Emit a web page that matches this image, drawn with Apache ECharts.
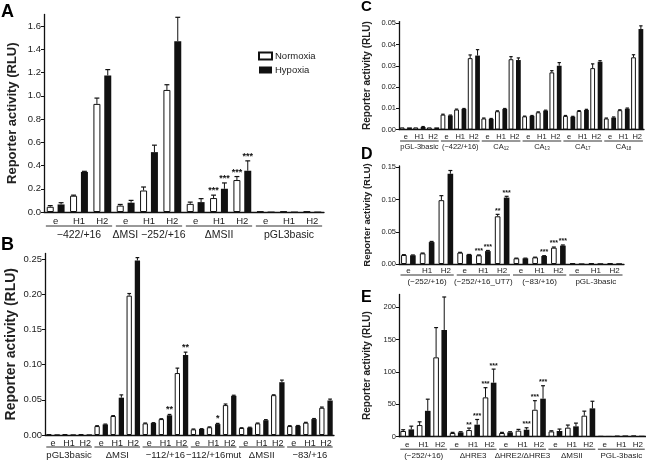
<!DOCTYPE html>
<html><head><meta charset="utf-8">
<script src="https://cdn.jsdelivr.net/npm/echarts@6/dist/echarts.min.js"></script>
<style>html,body{margin:0;padding:0;background:#fff}#c{width:646px;height:461px}</style>
</head><body><div id="c"></div>
<script>
const conds = ['e', 'H1', 'H2'];

// ---- Panel A ----
const groupsA = ['\u2212422/+16', '\u0394MSI \u2212252/+16', '\u0394MSII', 'pGL3basic'];
const ticksA = [0, 0.2, 0.4, 0.6, 0.8, 1.0, 1.2, 1.4, 1.6];
const normA = [0.045, 0.14, 0.93, 0.055, 0.185, 1.05, 0.07, 0.12, 0.275, 0.004, 0.004, 0.004];
const normErrA = [0.01, 0.005, 0.05, 0.01, 0.03, 0.045, 0.015, 0.025, 0.03, 0, 0, 0];
const hypA = [0.065, 0.345, 1.175, 0.08, 0.515, 1.47, 0.085, 0.2, 0.355, 0.004, 0.004, 0.004];
const hypErrA = [0.015, 0.005, 0.05, 0.02, 0.06, 0.205, 0.03, 0.05, 0.085, 0, 0, 0];
const starsNA = ['', '', '', '', '', '', '', '***', '***', '', '', ''];
const starsHA = ['', '', '', '', '', '', '', '***', '***', '', '', ''];

// ---- Panel B ----
const groupsB = ['pGL3basic', '\u0394MSI', '\u2212112/+16', '\u2212112/+16mut', '\u0394MSII', '\u221283/+16'];
const ticksB = [0, 0.05, 0.10, 0.15, 0.20, 0.25];
const normB = [0.001, 0.001, 0.001, 0.0127, 0.027, 0.198, 0.0165, 0.0226, 0.088, 0.008, 0.011, 0.0425, 0.01, 0.0165, 0.0566, 0.0127, 0.0175, 0.0387];
const normErrB = [0, 0, 0, 0.0005, 0.0005, 0.003, 0.0005, 0.0005, 0.007, 0.0005, 0.0005, 0.0015, 0.0003, 0.0005, 0.0005, 0.0005, 0.0005, 0.001];
const hypB = [0.001, 0.001, 0.001, 0.015, 0.053, 0.248, 0.017, 0.028, 0.1137, 0.0085, 0.0155, 0.0557, 0.0105, 0.021, 0.075, 0.013, 0.0226, 0.049];
const hypErrB = [0, 0, 0, 0.0005, 0.004, 0.004, 0.0005, 0.0012, 0.004, 0.0005, 0.001, 0.0008, 0.0005, 0.0008, 0.003, 0.0005, 0.0008, 0.002];
const starsNB = ['', '', '', '', '', '', '', '', '', '', '', '', '', '', '', '', '', ''];
const starsHB = ['', '', '', '', '', '', '', '**', '**', '', '*', '', '', '', '', '', '', ''];

// ---- Panel C ----
const groupsC = ['pGL-3basic', '(\u2212422/+16)', 'CA{s|12}', 'CA{s|13}', 'CA{s|17}', 'CA{s|18}'];
const ticksC = [0, 0.01, 0.02, 0.03, 0.04, 0.05];
const normC = [0.001, 0.001, 0.001, 0.007, 0.0094, 0.0336, 0.0052, 0.0086, 0.0331, 0.0062, 0.0081, 0.0269, 0.0064, 0.0087, 0.0289, 0.0052, 0.0091, 0.034];
const normErrC = [0, 0, 0, 0.0002, 0.0002, 0.0015, 0.0002, 0.0002, 0.0012, 0.0001, 0.0002, 0.0008, 0.0002, 0.0002, 0.002, 0.0002, 0.0002, 0.0012];
const hypC = [0.001, 0.0012, 0.001, 0.0066, 0.0097, 0.0348, 0.005, 0.0097, 0.0327, 0.0064, 0.0089, 0.030, 0.006, 0.0092, 0.0319, 0.0056, 0.0098, 0.0473];
const hypErrC = [0, 0.0002, 0, 0.0002, 0.0002, 0.0028, 0.0002, 0.0002, 0.001, 0.0002, 0.0002, 0.0015, 0.0002, 0.0003, 0.0005, 0.0003, 0.0003, 0.0015];
const starsNC = normC.map(() => '');
const starsHC = hypC.map(() => '');

// ---- Panel D ----
const groupsD = ['(\u2212252/+16)', '(\u2212252/+16_UT7)', '(\u221283/+16)', 'pGL-3basic'];
const ticksD = [0, 0.05, 0.10, 0.15];
const normD = [0.014, 0.0165, 0.099, 0.0176, 0.0135, 0.074, 0.0088, 0.0103, 0.0253, 0.001, 0.001, 0.001];
const normErrD = [0.0005, 0.0005, 0.007, 0.0005, 0.0005, 0.003, 0.0003, 0.0003, 0.001, 0, 0, 0];
const hypD = [0.0135, 0.034, 0.14, 0.0145, 0.02, 0.103, 0.0088, 0.0124, 0.0285, 0.001, 0.0012, 0.0012];
const hypErrD = [0.0005, 0.001, 0.005, 0.0003, 0.001, 0.002, 0.0003, 0.0005, 0.001, 0, 0, 0];
const starsND = ['', '', '', '', '***', '**', '', '', '***', '', '', ''];
const starsHD = ['', '', '', '', '***', '***', '', '***', '***', '', '', ''];

// ---- Panel E ----
const groupsE = ['(\u2212252/+16)', '\u0394HRE3', '\u0394HRE2/\u0394HRE3', '\u0394MSII', 'PGL-3basic'];
const ticksE = [0, 50, 100, 150, 200];
const normE = [8.8, 18, 122.7, 5.7, 10.3, 60.8, 5.7, 9.3, 41.7, 8.2, 14, 32.5, 1, 1.5, 2];
const normErrE = [2, 5, 46, 1, 3, 15, 1, 2, 14, 1, 4, 7, 0, 0, 0];
const hypE = [11.3, 40, 165, 6.7, 18.6, 83.5, 6.7, 10.8, 58.8, 8.8, 16, 43.8, 1.2, 2, 1.5];
const hypErrE = [5, 18, 51, 1, 8, 21, 1, 3, 20, 3, 5, 11, 0, 0, 0];
const starsNE = ['', '', '', '', '**', '***', '', '', '***', '', '', '', '', '', ''];
const starsHE = ['', '', '', '', '***', '***', '', '***', '***', '', '', '', '', '', ''];

const FF = '"Liberation Sans", Arial, sans-serif';
const INK = '#111';
const TXT = '#222';

const panels = [
  { letter: 'A', groups: groupsA, ticks: ticksA, norm: normA, normErr: normErrA, hyp: hypA, hypErr: hypErrA, starsN: starsNA, starsH: starsHA,
    L: { grid: { left: 44, top: 14.4, width: 280, height: 197.6 }, yMax: 1.7, dec: 1, tickFont: 9.5, titleFont: 13, nameGap: 25, subFont: 9.5, subMargin: 4, ulOff: 14, glOff: 17.5, glFont: 10.5, bw: 0.3, gap: 0.55, starFont: 9, letter: [1, 3, 18] } },
  { letter: 'B', groups: groupsB, ticks: ticksB, norm: normB, normErr: normErrB, hyp: hypB, hypErr: hypErrB, starsN: starsNB, starsH: starsHB,
    L: { grid: { left: 45, top: 253.4, width: 289, height: 181.6 }, yMax: 0.258, dec: 2, tickFont: 9.5, titleFont: 14, nameGap: 27, subFont: 9, subMargin: 4, ulOff: 12, glOff: 15, glFont: 9.5, bw: 0.33, gap: 0.55, starFont: 9, letter: [1, 236, 18] } },
  { letter: 'C', groups: groupsC, ticks: ticksC, norm: normC, normErr: normErrC, hyp: hypC, hypErr: hypErrC, starsN: starsNC, starsH: starsHC,
    L: { grid: { left: 399, top: 21.6, width: 245, height: 107.9 }, yMax: 0.0508, dec: 2, tickFont: 7.5, titleFont: 10, nameGap: 27, subFont: 7.5, subMargin: 3.5, ulOff: 11.5, glOff: 13.5, glFont: 7.5, bw: 0.35, gap: 0.55, starFont: 7, letter: [361, -1, 15] } },
  { letter: 'D', groups: groupsD, ticks: ticksD, norm: normD, normErr: normErrD, hyp: hypD, hypErr: hypErrD, starsN: starsND, starsH: starsHD,
    L: { grid: { left: 399, top: 166, width: 225, height: 98 }, yMax: 0.152, dec: 2, tickFont: 7.5, titleFont: 9.5, nameGap: 27, subFont: 8, subMargin: 3, ulOff: 11, glOff: 14, glFont: 8, bw: 0.3, gap: 0.6, starFont: 7, letter: [361, 147, 16] } },
  { letter: 'E', groups: groupsE, ticks: ticksE, norm: normE, normErr: normErrE, hyp: hypE, hypErr: hypErrE, starsN: starsNE, starsH: starsHE,
    L: { grid: { left: 399, top: 294.4, width: 249, height: 142.3 }, yMax: 220, dec: 0, tickFont: 7.5, titleFont: 10, nameGap: 27, subFont: 8, subMargin: 4, ulOff: 12.5, glOff: 15, glFont: 8, bw: 0.34, gap: 0.45, starFont: 7, letter: [361, 290, 16] } }
];

const grids = [], xAxes = [], yAxes = [], series = [];

function errSeries(i, vals, errs, stars, side, L) {
  return {
    type: 'custom', xAxisIndex: i, yAxisIndex: i, z: 5, silent: true, clip: false,
    data: vals.map((v, k) => [k, v, errs[k]]),
    renderItem(params, api) {
      const k = api.value(0), v = api.value(1), e = api.value(2);
      const band = api.size([1, 0])[0];
      const bw = band * L.bw;
      const off = side * (bw + bw * L.gap) / 2;
      const p0 = api.coord([k, v]);
      const x = p0[0] + off;
      const yTop = api.coord([k, v + e])[1];
      const ch = [];
      if (e > 0) {
        ch.push({ type: 'line', shape: { x1: x, y1: p0[1], x2: x, y2: yTop }, style: { stroke: INK, lineWidth: 1 } });
        ch.push({ type: 'line', shape: { x1: x - bw * 0.35, y1: yTop, x2: x + bw * 0.35, y2: yTop }, style: { stroke: INK, lineWidth: 1.2 } });
      }
      const s = stars[params.dataIndex];
      if (s) ch.push({ type: 'text', style: { text: s, x: x, y: yTop, align: 'center', verticalAlign: 'bottom', fontSize: L.starFont, fontWeight: 'bold', fontFamily: FF, fill: INK } });
      return { type: 'group', children: ch };
    }
  };
}

panels.forEach((p, i) => {
  const L = p.L;
  const cats = p.groups.flatMap(g => conds.map(c => g + '::' + c));
  p.cats = cats;
  grids.push(Object.assign({ containLabel: false }, L.grid));
  xAxes.push({
    type: 'category', gridIndex: i, data: cats,
    axisTick: { show: false },
    axisLine: { show: true, lineStyle: { color: INK, width: 1.3 } },
    axisLabel: { interval: 0, margin: L.subMargin, fontSize: L.subFont, color: TXT, fontFamily: FF, formatter: v => v.split('::')[1] },
    splitLine: { show: false }
  });
  yAxes.push({
    type: 'value', gridIndex: i, min: 0, max: L.yMax,
    splitLine: { show: false },
    axisLine: { show: true, lineStyle: { color: INK, width: 1.3 } },
    axisTick: { show: true, length: 3, customValues: p.ticks, lineStyle: { color: INK } },
    axisLabel: { customValues: p.ticks, formatter: v => Number(v).toFixed(L.dec), fontSize: L.tickFont, color: TXT, fontFamily: FF, margin: 3 },
    name: 'Reporter activity (RLU)', nameLocation: 'middle', nameGap: L.nameGap,
    nameTextStyle: { fontWeight: 'bold', fontSize: L.titleFont, color: TXT, fontFamily: FF }
  });
  series.push({ type: 'bar', name: 'Normoxia', xAxisIndex: i, yAxisIndex: i, data: p.norm,
    barWidth: (L.bw * 100) + '%', barGap: (L.gap * 100) + '%',
    itemStyle: { color: '#fff', borderColor: INK, borderWidth: 1 } });
  series.push({ type: 'bar', name: 'Hypoxia', xAxisIndex: i, yAxisIndex: i, data: p.hyp,
    barWidth: (L.bw * 100) + '%', barGap: (L.gap * 100) + '%',
    itemStyle: { color: INK } });
  series.push(errSeries(i, p.norm, p.normErr, p.starsN, -1, L));
  series.push(errSeries(i, p.hyp, p.hypErr, p.starsH, 1, L));
});

const chart = echarts.init(document.getElementById('c'), null, { renderer: 'canvas' });
chart.setOption({
  animation: false,
  backgroundColor: '#fff',
  textStyle: { fontFamily: FF },
  grid: grids, xAxis: xAxes, yAxis: yAxes, series: series,
  legend: {
    data: ['Normoxia', 'Hypoxia'], orient: 'vertical', left: 253, top: 46,
    itemWidth: 13, itemHeight: 7, itemGap: 4, icon: 'rect', selectedMode: false,
    textStyle: { fontSize: 9.5, color: TXT, fontFamily: FF, padding: [0, 0, 0, -2] }
  }
});

const els = [];
panels.forEach((p, i) => {
  const L = p.L;
  const y0 = chart.convertToPixel({ yAxisIndex: i }, 0);
  const band = L.grid.width / p.cats.length;
  p.groups.forEach(g => {
    const xa = chart.convertToPixel({ xAxisIndex: i }, g + '::e');
    const xb = chart.convertToPixel({ xAxisIndex: i }, g + '::H2');
    const x1 = xa - 0.42 * band, x2 = xb + 0.42 * band;
    els.push({ type: 'line', silent: true, shape: { x1: x1, y1: y0 + L.ulOff, x2: x2, y2: y0 + L.ulOff }, style: { stroke: '#333', lineWidth: 1 } });
    els.push({ type: 'text', silent: true, style: {
      text: g, x: (x1 + x2) / 2, y: y0 + L.glOff, align: 'center', verticalAlign: 'top',
      fontSize: L.glFont, fontFamily: FF, fill: TXT,
      rich: { s: { fontSize: L.glFont * 0.6, fontFamily: FF, fill: TXT, verticalAlign: 'bottom', padding: [L.glFont * 0.5, 0, 0, 0] } }
    } });
  });
  els.push({ type: 'text', silent: true, style: { text: p.letter, x: L.letter[0], y: L.letter[1], fontSize: L.letter[2], fontWeight: 'bold', fontFamily: FF, fill: '#000', align: 'left', verticalAlign: 'top' } });
});
chart.setOption({ graphic: { elements: els } });
</script>
</body></html>
